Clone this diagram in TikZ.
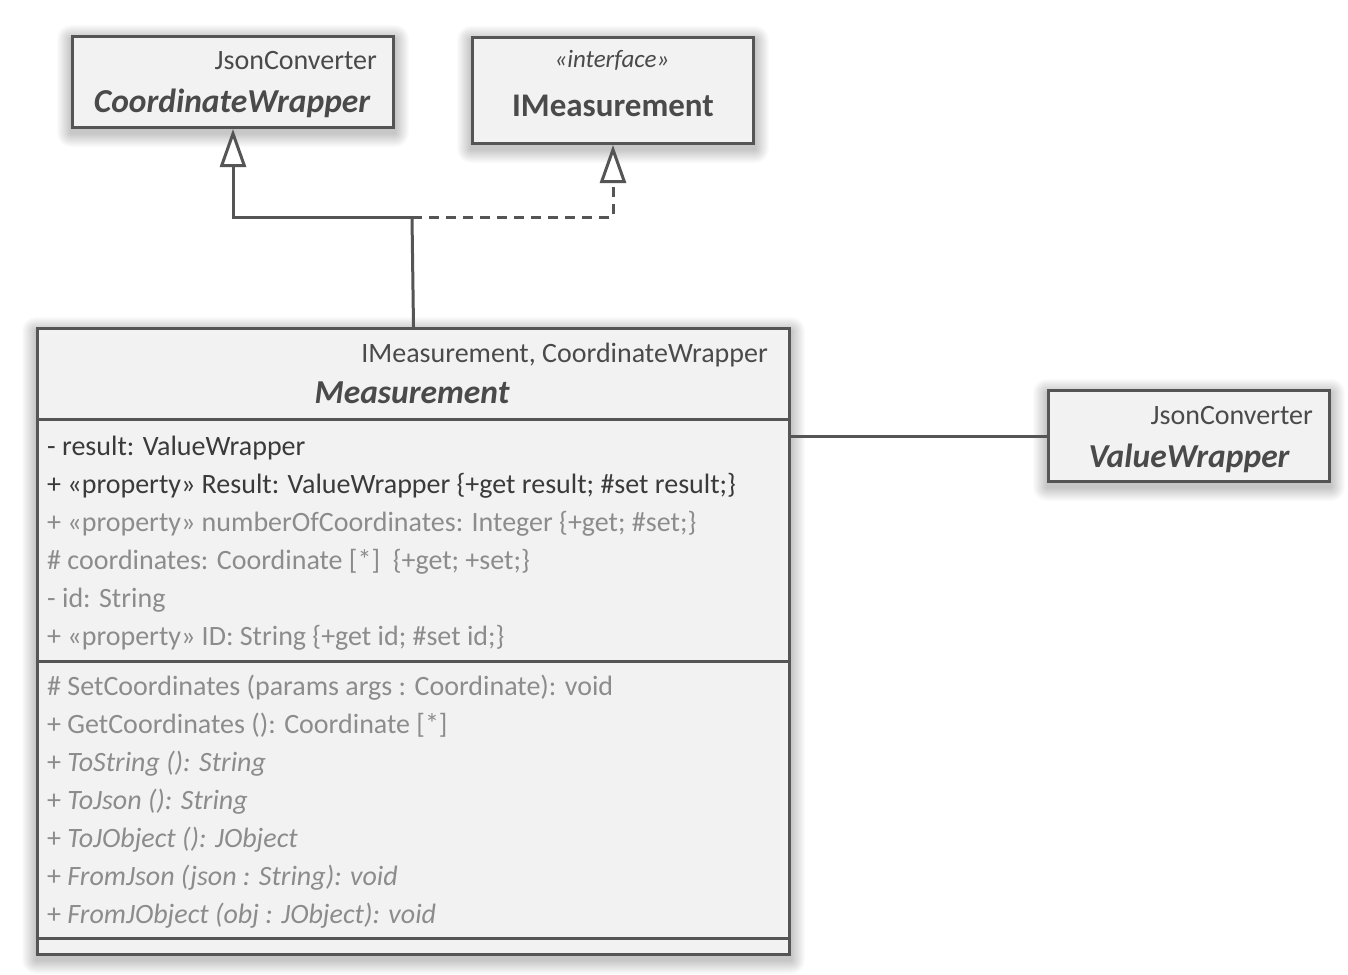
\documentclass[tikz,border=0pt]{standalone}
\usepackage{fontspec}
\setmainfont{Carlito}
\usetikzlibrary{arrows.meta,backgrounds}
\definecolor{umlline}{HTML}{555555}
\definecolor{umlfill}{HTML}{F2F2F2}
\definecolor{txtdark}{HTML}{3A3A3A}
\definecolor{txthead}{HTML}{4A4A4A}
\definecolor{txtgray}{HTML}{8C8C8C}
\tikzset{
  umlbox/.style={draw=umlline, line width=3pt, fill=umlfill, inner sep=0pt, anchor=north west},
  conn/.style={draw=umlline, line width=3pt},
  gen/.style={-{Triangle[open, length=38pt, width=26pt, fill=white]}},
  bodytxt/.style={inner sep=0pt, font=\fontsize{28}{31}\selectfont},
  rowdark/.style={bodytxt, anchor=base west, text=txtdark},
  rowgray/.style={bodytxt, anchor=base west, text=txtgray},
  stereo/.style={bodytxt, text=txthead},
  titletxt/.style={inner sep=0pt, anchor=base, text=txthead, font=\fontsize{33.5}{36}\selectfont\bfseries\itshape},
  shadowlayer/.style={fill=black, fill opacity=0.014, draw=none},
}
\newcommand{\mysoftshadow}[1]{%
  \foreach \k in {1,...,14}{%
    \fill[shadowlayer, rounded corners=\k pt]
      ([xshift=-\k pt, yshift=\k pt-4pt]#1.north west) rectangle ([xshift=\k pt, yshift=-\k pt-4pt]#1.south east);
  }%
}
\begin{document}
\begin{tikzpicture}[x=1pt,y=-1pt]
\useasboundingbox (0,0) rectangle (1348,974);

% boxes
\node[umlbox, minimum width=321pt, minimum height=91pt] (cw) at (71,35) {};
\node[umlbox, minimum width=281pt, minimum height=106pt] (im) at (471,36) {};
\node[umlbox, minimum width=752pt, minimum height=626pt] (m) at (36,327) {};
\node[umlbox, minimum width=281pt, minimum height=91pt] (vw) at (1047,389) {};

\begin{pgfonlayer}{background}
  \fill[white] (0,0) rectangle (1348,974);
  \mysoftshadow{cw}
  \mysoftshadow{im}
  \mysoftshadow{m}
  \mysoftshadow{vw}
\end{pgfonlayer}

% CoordinateWrapper
\node[stereo, anchor=base east] (cwst) at (377,70) {JsonConverter};
\node[titletxt] (cwt) at (232,112) {CoordinateWrapper};

% IMeasurement
\node[inner sep=0pt, anchor=base, text=txthead, font=\fontsize{25}{28}\selectfont\itshape] (imst) at (612,67) {«interface»};
\node[inner sep=0pt, anchor=base, text=txthead, font=\fontsize{33}{36}\selectfont\bfseries] (imt) at (613,116) {IMeasurement};

% ValueWrapper
\node[stereo, anchor=base east] (vwst) at (1313,424) {JsonConverter};
\node[titletxt] (vwt) at (1189,467) {ValueWrapper};

% Measurement header
\node[stereo, anchor=base east] (mst) at (768,362) {IMeasurement, CoordinateWrapper};
\node[titletxt] (mt) at (412,403) {Measurement};

% compartments
\coordinate (s1) at (36,419);
\coordinate (s2) at (36,661);
\coordinate (s3) at (36,938);
\draw[conn] (s1) -- (s1 -| m.east);
\draw[conn] (s2) -- (s2 -| m.east);
\draw[conn] (s3) -- (s3 -| m.east);

% attributes
\node[rowdark] (a1) at (47,455) {- result: ValueWrapper};
\node[rowdark] (a2) at (47,493) {+ «property» Result: ValueWrapper \{+get result; \#set result;\}};
\node[rowgray] (a3) at (47,531) {+ «property» numberOfCoordinates: Integer \{+get; \#set;\}};
\node[rowgray] (a4) at (47,569) {\# coordinates: Coordinate [*]\ \ \{+get; +set;\}};
\node[rowgray] (a5) at (47,607) {- id: String};
\node[rowgray] (a6) at (47,645) {+ «property» ID: String \{+get id; \#set id;\}};

% methods
\node[rowgray] (o1) at (47,695) {\# SetCoordinates (params args : Coordinate): void};
\node[rowgray] (o2) at (47,733) {+ GetCoordinates (): Coordinate [*]};
\node[rowgray] (o3) at (47,771) {+ \textit{ToString (): String}};
\node[rowgray] (o4) at (47,809) {+ \textit{ToJson (): String}};
\node[rowgray] (o5) at (47,847) {+ \textit{ToJObject (): JObject}};
\node[rowgray] (o6) at (47,885) {+ \textit{FromJson (json : String): void}};
\node[rowgray] (o7) at (47,923) {+ \textit{FromJObject (obj : JObject): void}};

% connectors
\coordinate (j) at (412,217);
\draw[conn] (m.north) -- (j);
\draw[conn, gen] (j) -| (cw.south);
\draw[conn, gen, dash pattern=on 10pt off 7pt] (j) -| (im.south);
\draw[conn] (vw.west) -- (vw.west -| m.east);
\end{tikzpicture}
\end{document}
